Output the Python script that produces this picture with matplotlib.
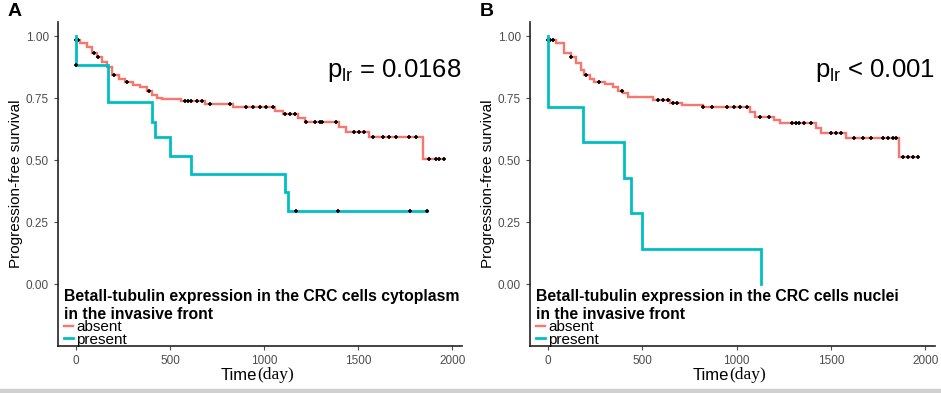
import numpy as np
import matplotlib.pyplot as plt
from matplotlib.lines import Line2D
from matplotlib.patches import Rectangle

plt.rcParams['font.family'] = ['Liberation Sans', 'DejaVu Sans']

RED = '#F8766D'
CYAN = '#00BFC4'

# panel A: cytoplasm
a_abs_t = [0, 21, 57, 83, 110, 136, 163, 189, 225, 260, 304, 339, 375, 401, 428, 454,
           560, 684, 834, 1055, 1100, 1179, 1215, 1400, 1436, 1559, 1842]
a_abs_s = [0.984, 0.970, 0.957, 0.930, 0.914, 0.897, 0.876, 0.843, 0.827, 0.816, 0.802,
           0.793, 0.780, 0.762, 0.751, 0.745, 0.739, 0.726, 0.712, 0.699, 0.684, 0.671,
           0.655, 0.634, 0.614, 0.591, 0.503]
a_abs_end = 1957
a_abs_cens = [0, 12, 97, 118, 203, 269, 387, 578, 596, 613, 640, 667, 711, 817, 905, 941,
              976, 1011, 1047, 1109, 1135, 1162, 1223, 1268, 1294, 1308, 1383, 1480, 1506,
              1533, 1577, 1630, 1665, 1701, 1772, 1807, 1878, 1913, 1931, 1957]
a_pre_t = [0, 0, 171, 401, 419, 499, 610, 1109, 1125]
a_pre_s = [1.0, 0.883, 0.735, 0.655, 0.591, 0.516, 0.444, 0.37, 0.294]
a_pre_end = 1865
a_pre_cens = [0, 1167, 1391, 1777, 1865]

# panel B: nuclei
b_abs_t = [0, 41, 85, 121, 148, 174, 192, 219, 245, 299, 343, 370, 396, 423, 468, 557,
           645, 708, 823, 1072, 1099, 1197, 1232, 1419, 1446, 1579, 1863]
b_abs_s = [0.984, 0.970, 0.933, 0.917, 0.890, 0.863, 0.843, 0.827, 0.816, 0.806, 0.793,
           0.780, 0.769, 0.755, 0.753, 0.742, 0.728, 0.722, 0.712, 0.695, 0.675, 0.661,
           0.648, 0.628, 0.610, 0.587, 0.511]
b_abs_end = 1961
b_abs_cens = [0, 11, 23, 121, 201, 270, 393, 583, 610, 637, 660, 682, 823, 868, 948, 984,
              1019, 1055, 1125, 1170, 1294, 1312, 1330, 1357, 1392, 1499, 1526, 1552, 1623,
              1668, 1712, 1774, 1801, 1828, 1845, 1881, 1908, 1934, 1961]
b_pre_t = [0, 0, 183, 402, 437, 500, 1129]
b_pre_s = [1.0, 0.714, 0.571, 0.429, 0.286, 0.143, 0.0]
b_pre_end = 1129
b_pre_cens = []

groups = ['absent', 'present']
x_ticks = [0, 500, 1000, 1500, 2000]
y_ticks = [0.0, 0.25, 0.50, 0.75, 1.00]


def km_curve(ax, t, s, end, cens, color, lw):
    t = np.asarray(t, float)
    s = np.asarray(s, float)
    ax.step(np.append(t, end), np.append(s, s[-1]), where='post', color=color, lw=lw,
            solid_joinstyle='miter')
    if len(cens):
        # censor marks sit on the curve at the censoring time
        idx = np.searchsorted(t, cens, side='right') - 1
        ax.plot(cens, s[idx], ls='none', marker='+', color='black', ms=3, mew=1.2)


def panel(ax, abs_data, pre_data, title, ptext, letter):
    km_curve(ax, *abs_data, RED, 1.7)
    km_curve(ax, *pre_data, CYAN, 2.0)
    ax.set_xlim(-97, 2050)
    ax.set_ylim(-0.25, 1.056)
    ax.set_xticks(x_ticks)
    ax.set_yticks(y_ticks)
    ax.set_yticklabels(['%.2f' % v for v in y_ticks])
    ax.tick_params(colors='#4d4d4d', labelsize=8.5, length=3, width=0.8)
    for side in ['top', 'right']:
        ax.spines[side].set_visible(False)
    for side in ['left', 'bottom']:
        ax.spines[side].set_linewidth(1.2)
        ax.spines[side].set_color('#222222')
    ax.set_ylabel('Progression-free survival', fontsize=11, labelpad=2)
    ax.text(0.493, -0.09, 'Time', transform=ax.transAxes, ha='right', va='center',
            fontsize=12)
    ax.text(0.493, -0.09, '(day)', transform=ax.transAxes, ha='left', va='center',
            fontsize=12.5, family=['Liberation Serif', 'DejaVu Serif'])
    ax.text(1.0, 0.85, r'$\mathregular{p_{lr}}$' + ptext, transform=ax.transAxes,
            ha='right', va='center', fontsize=18.5)
    handles = [Line2D([], [], color=RED, lw=1.7), Line2D([], [], color=CYAN, lw=2.0)]
    ax.legend(handles, groups, title=title, loc='lower left', bbox_to_anchor=(-0.012, -0.035),
              frameon=False, handlelength=0.6, handletextpad=0.2, labelspacing=-0.1,
              borderpad=0.2, fontsize=11, alignment='left',
              title_fontproperties={'weight': 'bold', 'size': 11.3})
    ax.text(-0.125, 1.058, letter, transform=ax.transAxes, fontsize=14, fontweight='bold',
            ha='left', va='top')


fig = plt.figure(figsize=(9.41, 3.93), dpi=100)
ax1 = fig.add_axes([0.0616, 0.1196, 0.429, 0.824])
ax2 = fig.add_axes([0.5632, 0.1196, 0.430, 0.824])

panel(ax1, (a_abs_t, a_abs_s, a_abs_end, a_abs_cens),
      (a_pre_t, a_pre_s, a_pre_end, a_pre_cens),
      'Betall-tubulin expression in the CRC cells cytoplasm\nin the invasive front',
      ' = 0.0168', 'A')
panel(ax2, (b_abs_t, b_abs_s, b_abs_end, b_abs_cens),
      (b_pre_t, b_pre_s, b_pre_end, b_pre_cens),
      'Betall-tubulin expression in the CRC cells nuclei\nin the invasive front',
      ' < 0.001', 'B')

# thin grey strip along the bottom edge
fig.patches.append(Rectangle((0, 0), 1, 4 / 393, transform=fig.transFigure,
                             color='#d0d0d0', zorder=0))

fig.savefig('out.png', dpi=100)
